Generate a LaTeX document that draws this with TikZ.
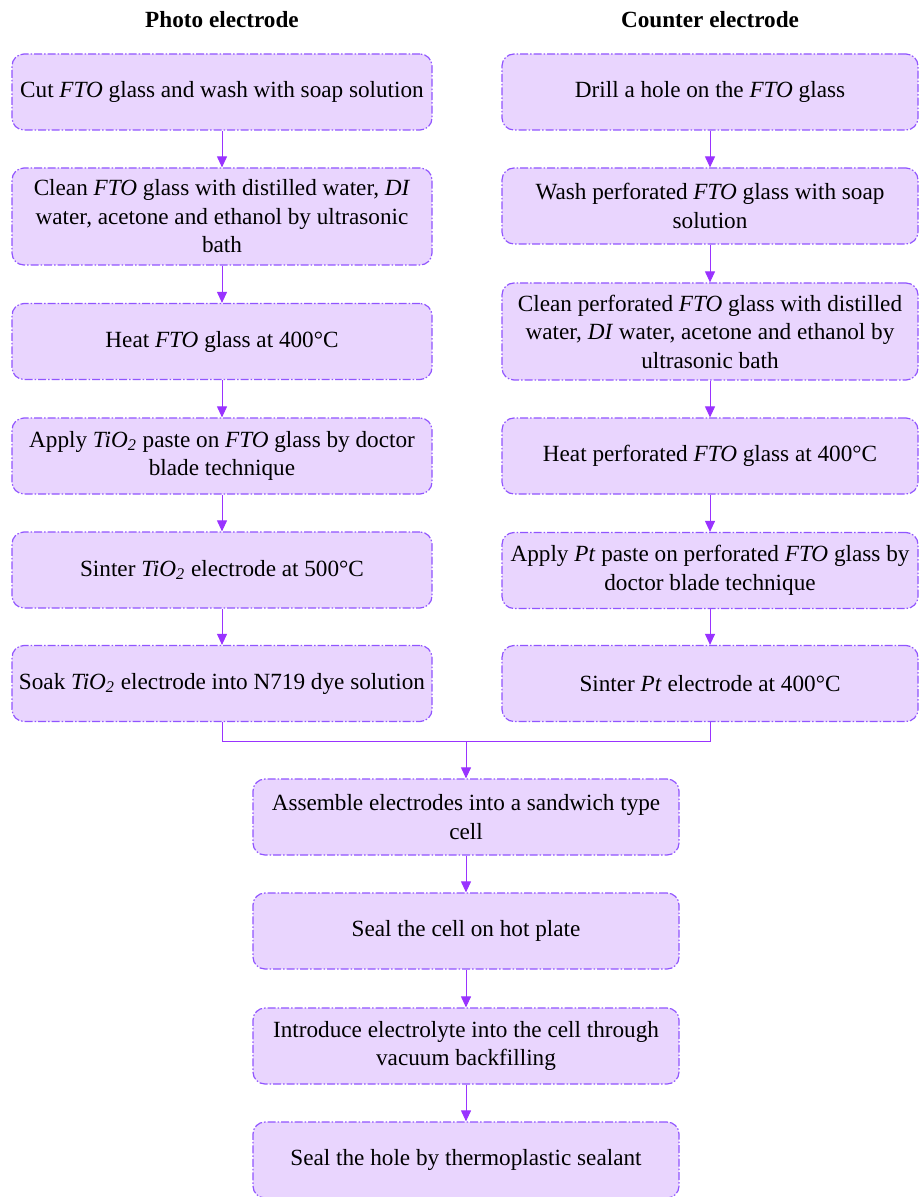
\documentclass[tikz,border=0pt]{standalone}
\usepackage{fontspec}
\setmainfont{Liberation Serif}
\usetikzlibrary{arrows.meta,positioning}
\definecolor{stepfill}{HTML}{E9D5FE}
\definecolor{stepline}{HTML}{9055FF}
\definecolor{flow}{HTML}{9933FF}

\begin{document}
\begin{tikzpicture}[x=0.5pt,y=-0.5pt,
  stepbox/.style={draw=stepline,fill=stepfill,line width=0.6pt,rounded corners=6pt,
    dash pattern=on 4pt off 1pt on 0.75pt off 1pt,align=center,
    minimum width=210pt,minimum height=38pt,inner sep=2pt,
    font=\fontsize{11.6}{14.25}\selectfont},
  tallbox/.style={stepbox,minimum height=48.5pt},
  head/.style={font=\fontsize{11.6}{14.25}\selectfont\bfseries},
  flowline/.style={flow,line width=0.5pt},
  flowarrow/.style={flowline,-{Triangle[length=5.5pt,width=5pt]}}]
  \useasboundingbox (0,0) rectangle (919,1197);

  % Column headings
  \node[head] (photo) at (222,20) {Photo electrode};
  \node[head] (counter) at (710,20) {Counter electrode};

  % Photo electrode
  \node[stepbox] (l1) at (222,92) {Cut \textit{FTO} glass and wash with soap solution};
  \node[tallbox] (l2) at (222,216.5) {Clean \textit{FTO} glass with distilled water, \textit{DI}\\water, acetone and ethanol by ultrasonic\\bath};
  \node[stepbox] (l3) at (222,341.5) {Heat \textit{FTO} glass at 400°C};
  \node[stepbox] (l4) at (222,456) {Apply \textit{TiO\textsubscript{2}} paste on \textit{FTO} glass by doctor\\blade technique};
  \node[stepbox] (l5) at (222,570) {Sinter \textit{TiO\textsubscript{2}} electrode at 500°C};
  \node[stepbox] (l6) at (222,683.5) {Soak \textit{TiO\textsubscript{2}} electrode into N719 dye solution};

  % Counter electrode
  \node[stepbox,minimum width=208pt] (r1) at (710,92) {Drill a hole on the \textit{FTO} glass};
  \node[stepbox,minimum width=208pt] (r2) at (710,206) {Wash perforated \textit{FTO} glass with soap\\solution};
  \node[tallbox,minimum width=208pt] (r3) at (710,331.5) {Clean perforated \textit{FTO} glass with distilled\\water, \textit{DI} water, acetone and ethanol by\\ultrasonic bath};
  \node[stepbox,minimum width=208pt] (r4) at (710,456) {Heat perforated \textit{FTO} glass at 400°C};
  \node[stepbox,minimum width=208pt] (r5) at (710,570.5) {Apply \textit{Pt} paste on perforated \textit{FTO} glass by\\doctor blade technique};
  \node[stepbox,minimum width=208pt] (r6) at (710,683.5) {Sinter \textit{Pt} electrode at 400°C};

  % Cell assembly
  \node[stepbox,minimum width=213pt] (c1) at (466,817) {Assemble electrodes into a sandwich type\\cell};
  \node[stepbox,minimum width=213pt] (c2) at (466,931) {Seal the cell on hot plate};
  \node[stepbox,minimum width=213pt] (c3) at (466,1046) {Introduce electrolyte into the cell through\\vacuum backfilling};
  \node[stepbox,minimum width=213pt] (c4) at (466,1160) {Seal the hole by thermoplastic sealant};

  \coordinate (join) at (466,741);

  % Arrows
  \foreach \a/\b in {l1/l2,l2/l3,l3/l4,l4/l5,l5/l6,r1/r2,r2/r3,r3/r4,r4/r5,r5/r6,c1/c2,c2/c3,c3/c4}
    \draw[flowarrow] (\a) -- (\b);
  \draw[flowline] (l6.south) |- (join);
  \draw[flowline] (r6.south) |- (join);
  \draw[flowarrow] (join) -- (c1.north);
\end{tikzpicture}
\end{document}
